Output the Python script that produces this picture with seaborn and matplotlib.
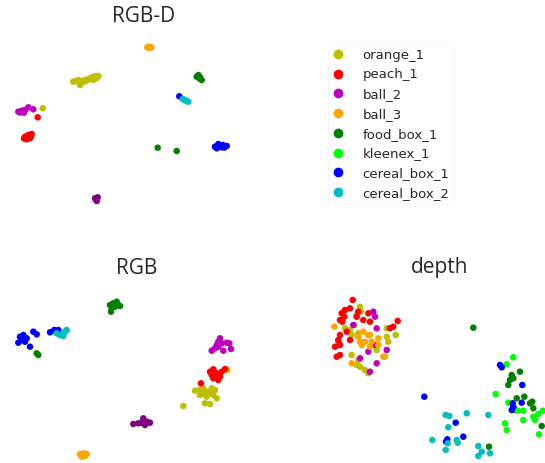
import matplotlib
matplotlib.use("Agg")
import matplotlib.pyplot as plt
from matplotlib.lines import Line2D
import seaborn as sns
import pandas as pd

# ---------------- data (embedding coordinates) ----------------
LABELS = ["orange_1", "peach_1", "ball_2", "ball_3", "food_box_1",
          "kleenex_1", "cereal_box_1", "cereal_box_2", "unlabeled"]
COLORS = ["#bfbf00", "#ff0000", "#bf00bf", "#ffa500", "#008000",
          "#00ff00", "#0000ff", "#00bfbf", "#800080"]
LEGEND_LABELS = LABELS[:8]
TITLES = ["RGB-D", "RGB", "depth"]

# RGB-D panel
rgbd_orange_1 = [(73.3, 81.7), (76, 81), (78.3, 80), (81.7, 81), (80, 85), (83, 82), (85, 80),
                 (88.3, 79.3), (91.7, 77.3), (95, 76), (98.3, 76), (93.3, 80), (90, 79),
                 (96.5, 78), (86, 81), (42.7, 108.3)]
rgbd_peach_1 = [(37.7, 117.3), (25, 136.7), (28.3, 135), (31.7, 134), (26.7, 139.3),
                (30, 138.3), (28, 137), (31, 136.5), (24, 138.5)]
rgbd_ball_2 = [(18.3, 111.7), (21.7, 110.7), (25, 110), (28.3, 107.3), (24, 112.7),
               (20, 112.5), (33.3, 109.3)]
rgbd_ball_3 = [(149.3, 46.7), (147.3, 47.3), (151.3, 47.3), (149.5, 48)]
rgbd_food_box_1 = [(198.3, 75), (200, 77.3), (201.7, 80), (196.7, 76.7), (199.5, 78.5),
                   (157.7, 147.7), (176.7, 151)]
rgbd_kleenex_1 = []
rgbd_cereal_box_1 = [(179.3, 96.3), (215, 146.7), (218.3, 144), (222.7, 145), (226.7, 146),
                     (216.7, 148.3), (221.7, 147.3), (219.5, 146), (224.5, 147.5)]
rgbd_cereal_box_2 = [(182.7, 99), (186, 100.7), (188.3, 101.7), (184.5, 100)]
rgbd_unlabeled = [(95, 198.3), (96.7, 201), (97.7, 197.3), (96, 199.5)]

# RGB panel
rgb_orange_1 = [(227.3, 370), (195, 390.7), (200, 390), (203.3, 388.3), (206.7, 391.7),
                (211.7, 388.3), (215, 390), (200, 395), (206.7, 396.7), (213.3, 395),
                (216.7, 398.3), (205, 403.3), (210, 404), (183.3, 406), (209.3, 393.3),
                (204, 393.5)]
rgb_peach_1 = [(210, 371.7), (213.3, 369.3), (211.7, 375), (216.7, 373.3), (220, 376.7),
               (221.7, 371.7), (225, 369), (213.3, 378.3), (218.3, 380), (201, 383.3),
               (216.7, 376), (214.5, 372.5)]
rgb_ball_2 = [(220, 338.3), (218.3, 341.7), (216.7, 345), (221.7, 343.3), (226.7, 342.7),
              (229.3, 343.3), (231, 349), (223.3, 350.7), (211.7, 350.7), (215, 348.3),
              (218.3, 346.7)]
rgb_ball_3 = [(80, 454.3), (83.3, 453.3), (86.7, 454), (81.7, 456.7), (85, 456)]
rgb_food_box_1 = [(110, 305), (113.3, 303.3), (116.7, 301.7), (118.3, 305), (115, 306.7),
                  (111.7, 308.3), (120, 306), (111, 311.7), (36.7, 353.3), (38.3, 355)]
rgb_kleenex_1 = []
rgb_cereal_box_1 = [(20, 336.7), (23.3, 335), (21.7, 340), (18.3, 342.7), (25, 341.7),
                    (26.7, 338.3), (30, 346.7), (33.3, 331.7), (36.7, 334.3), (50, 332.3),
                    (54.3, 330), (58.3, 330)]
rgb_cereal_box_2 = [(56.7, 333.3), (60, 335), (63.3, 336), (65, 331.7), (66.7, 330)]
rgb_unlabeled = [(133.3, 424), (138.3, 423.3), (143.3, 418.3), (146.7, 421.7), (150, 422.7),
                 (145, 425), (141.7, 422.7)]

# depth panel
depth_orange_1 = [(360, 306.7), (361, 311.7), (356.7, 315), (345, 328.3), (350, 330),
                  (351.7, 335), (338.3, 341.7), (386.7, 328.3), (395.7, 335), (386.7, 336.7),
                  (388.3, 341.7), (351.7, 355), (358.3, 360), (356.7, 365), (360, 366.7),
                  (365, 370), (368.3, 373.3), (370, 335), (358.3, 333.3), (376.7, 350),
                  (385, 356.7), (354.3, 325)]
depth_peach_1 = [(352.7, 300), (350, 308.3), (345, 310), (341.7, 313.3), (344.3, 316.7),
                 (340, 320), (342.3, 321.7), (358.3, 311.7), (368.3, 313.3), (363.3, 320),
                 (370, 321.7), (397.7, 321), (393.3, 326.7), (340, 335), (338.3, 340),
                 (335, 346.7), (340, 345), (336.7, 356.7), (340, 355), (350, 340),
                 (346.7, 331.7), (390, 328.3), (356.7, 316.7)]
depth_ball_2 = [(373.3, 311.7), (375, 316.7), (376.7, 328.3), (353.3, 325), (386.7, 350),
                (375, 345), (360, 358.3), (368.3, 351.7), (376.7, 363.3), (370, 371.7)]
depth_ball_3 = [(334.3, 326.7), (358.3, 336.7), (363.3, 331.7), (368.3, 335), (365, 341.7),
                (371.7, 341.7), (361.7, 345), (370, 346.7), (360, 341.7), (378.3, 338.3),
                (351.7, 363.3), (383.3, 356.7), (378.3, 345)]
depth_food_box_1 = [(473.3, 327.7), (511.7, 375), (510, 380), (513.3, 378.3), (520, 371.7),
                    (508.3, 385), (524.3, 396.7), (516.7, 398.3), (530, 403.3), (533.3, 408.3),
                    (515, 410), (532.3, 401.7), (541.7, 426), (489, 446.7)]
depth_kleenex_1 = [(513.3, 357.3), (506.7, 364.3), (495.7, 394), (508.3, 402.7), (523.3, 410.7),
                   (523.3, 420), (505, 423.3), (506.7, 430), (533.3, 416.7), (535, 420),
                   (538.3, 414), (542.7, 410.7), (539, 434.3), (517.7, 410.7)]
depth_cereal_box_1 = [(424.3, 396.7), (500, 365), (501.7, 367.3), (522.3, 385), (521.7, 402.7),
                      (512.7, 403.3), (511.7, 410), (513.3, 406.7), (455.7, 422.7),
                      (463.3, 436.7), (447.3, 439.3), (446, 441.7)]
depth_cereal_box_2 = [(445.7, 415), (449.3, 416), (448.3, 427.3), (466.7, 413.3), (488.3, 415),
                      (432.3, 440), (445.7, 450), (456.7, 440), (457.7, 442.7), (478.3, 446),
                      (481.7, 451.7), (478.3, 456), (490, 453.3), (447.7, 443.3)]
depth_unlabeled = []

PANELS = {
    "RGB-D": [rgbd_orange_1, rgbd_peach_1, rgbd_ball_2, rgbd_ball_3, rgbd_food_box_1,
              rgbd_kleenex_1, rgbd_cereal_box_1, rgbd_cereal_box_2, rgbd_unlabeled],
    "RGB": [rgb_orange_1, rgb_peach_1, rgb_ball_2, rgb_ball_3, rgb_food_box_1,
            rgb_kleenex_1, rgb_cereal_box_1, rgb_cereal_box_2, rgb_unlabeled],
    "depth": [depth_orange_1, depth_peach_1, depth_ball_2, depth_ball_3, depth_food_box_1,
              depth_kleenex_1, depth_cereal_box_1, depth_cereal_box_2, depth_unlabeled],
}

# ---------------- figure ----------------
sns.set_theme(style="white")
plt.rcParams["font.family"] = ["DejaVu Sans"]

W, H = 545, 463
fig = plt.figure(figsize=(W / 100, H / 100), dpi=100)
palette = dict(zip(LABELS, COLORS))

# axes regions in pixels: (x0, x1, y0, y1)
regions = {"RGB-D": (0, 250, 25, 225), "RGB": (0, 270, 280, 463), "depth": (300, 545, 280, 463)}
title_pos = {"RGB-D": (144, 17), "RGB": (137, 268), "depth": (440, 268)}

for name in TITLES:
    x0, x1, y0, y1 = regions[name]
    ax = fig.add_axes([x0 / W, 1 - y1 / H, (x1 - x0) / W, (y1 - y0) / H])
    rows = []
    for lab, pts in zip(LABELS, PANELS[name]):
        for (px, py) in pts:
            rows.append({"x": px, "y": py, "label": lab})
    df = pd.DataFrame(rows)
    sns.scatterplot(data=df, x="x", y="y", hue="label", hue_order=LABELS, palette=palette,
                    s=22, linewidth=0, legend=False, ax=ax, clip_on=False)
    ax.set_xlim(x0, x1)
    ax.set_ylim(y1, y0)
    ax.set_axis_off()
    tx, ty = title_pos[name]
    fig.text(tx / W, 1 - ty / H, name, ha="center", va="center", fontsize=15,
             family=["Open Sans", "DejaVu Sans"], color="#262626")

handles = [Line2D([0], [0], marker="o", linestyle="none", markersize=7,
                  markerfacecolor=c, markeredgewidth=0) for c in COLORS[:8]]
leg = fig.legend(handles, LEGEND_LABELS, loc="upper left",
                 bbox_to_anchor=(328 / W, 1 - 44 / H), borderaxespad=0,
                 fontsize=9.5, handlelength=0.8, handletextpad=1.45,
                 labelspacing=0.51, frameon=True, borderpad=0.35)
leg.get_frame().set_edgecolor("#f4f4f4")
leg.get_frame().set_linewidth(0.8)

fig.savefig("out.png", dpi=100)
